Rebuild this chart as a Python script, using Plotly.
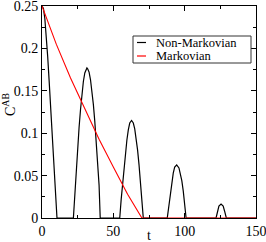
import plotly.graph_objects as go

# Non-Markovian concurrence
t_nm = [0, 1, 2, 3, 4, 5, 6, 7, 8, 9, 10.5,
        22, 23, 24, 25, 26, 27, 28, 29, 30, 31, 31.5, 32, 33, 34, 35, 36, 37, 38, 39, 40, 40.8,
        54.5, 55.5, 56.5, 57.5, 58.5, 59.5, 60.5, 61.5, 62.8, 64, 65, 66, 67, 68, 69, 70, 71,
        87.8, 89, 90, 91, 92, 93, 94.4, 96, 97, 98, 99, 100, 101,
        122, 123, 124, 125.5, 127, 128, 129.2,
        150]
c_nm = [0.25, 0.247, 0.235, 0.215, 0.19, 0.162, 0.132, 0.10, 0.068, 0.036, 0.0,
        0.0, 0.029, 0.057, 0.083, 0.107, 0.128, 0.147, 0.161, 0.171, 0.176, 0.177, 0.176, 0.172, 0.163, 0.150, 0.134, 0.114, 0.091, 0.066, 0.039, 0.0,
        0.0, 0.022, 0.042, 0.060, 0.077, 0.092, 0.104, 0.112, 0.115, 0.112, 0.105, 0.094, 0.080, 0.063, 0.044, 0.022, 0.0,
        0.0, 0.017, 0.031, 0.043, 0.053, 0.060, 0.0625, 0.059, 0.053, 0.044, 0.032, 0.017, 0.0,
        0.0, 0.008, 0.014, 0.0165, 0.014, 0.008, 0.0,
        0.0]

# Markovian concurrence
t_m = [0, 10, 20, 30, 40, 50, 60, 70, 150]
c_m = [0.25, 0.205, 0.165, 0.128, 0.093, 0.060, 0.028, 0.0, 0.0]

legend_labels = ["Non-Markovian", "Markovian"]
colors = ["black", "red"]

x_ticks = [0, 50, 100, 150]
y_ticks = [0, 0.05, 0.1, 0.15, 0.2, 0.25]
y_ticklabels = ["0", "0.05", "0.1", "0.15", "0.2", "0.25"]

FONT = "Liberation Serif, Times New Roman, serif"
FS = 14

fig = go.Figure()
fig.add_trace(go.Scatter(x=t_nm, y=c_nm, mode="lines", name=legend_labels[0],
                         line=dict(color=colors[0], width=1.2), showlegend=False))
fig.add_trace(go.Scatter(x=t_m, y=c_m, mode="lines", name=legend_labels[1],
                         line=dict(color=colors[1], width=1.1), showlegend=False))

W, H = 266, 242
L, R, T, B = 42, 10, 6, 24
pw, ph = W - L - R, H - T - B

def px(x):
    return (x - L) / pw

def py(y):
    return (H - B - y) / ph

# legend box (manual)
shapes = [dict(type="rect", xref="paper", yref="paper",
               x0=px(133), x1=px(251), y0=py(63), y1=py(36),
               line=dict(color="#333333", width=1), fillcolor="white", layer="above")]
annotations = []
for i, (lab, col, yy) in enumerate(zip(legend_labels, colors, [42.5, 56])):
    shapes.append(dict(type="line", xref="paper", yref="paper",
                       x0=px(137), x1=px(146), y0=py(yy), y1=py(yy),
                       line=dict(color=col, width=1.2), layer="above"))
    annotations.append(dict(xref="paper", yref="paper", x=px(155), y=py(yy),
                            text=lab, showarrow=False, xanchor="left", yanchor="middle",
                            borderpad=0,
                            font=dict(family=FONT, size=12.5, color="black")))

annotations.append(dict(xref="paper", yref="paper", x=px(9), y=py(105),
                        text="C<sup>AB</sup>", showarrow=False, textangle=-90,
                        xanchor="center", yanchor="middle",
                        font=dict(family=FONT, size=FS, color="black")))
annotations.append(dict(xref="paper", yref="paper", x=px(149), y=py(235),
                        text="t", showarrow=False,
                        xanchor="center", yanchor="middle",
                        font=dict(family=FONT, size=FS, color="black")))

axis_common = dict(showgrid=False, zeroline=False, showline=True, linecolor="black",
                   linewidth=1, mirror="ticks", ticks="inside", ticklen=5,
                   tickcolor="black", ticklabeloverflow="allow", automargin=False,
                   tickfont=dict(family=FONT, size=FS, color="black"))

fig.update_layout(
    template="none",
    width=W, height=H,
    margin=dict(l=L, r=R, t=T, b=B, pad=0),
    plot_bgcolor="white", paper_bgcolor="white",
    font=dict(family=FONT),
    shapes=shapes, annotations=annotations,
    xaxis=dict(range=[0, 150], tickvals=x_ticks, ticktext=[str(v) for v in x_ticks],
               minor=dict(dtick=25, tick0=0, ticks="inside", ticklen=3, tickcolor="black"),
               **axis_common),
    yaxis=dict(range=[0, 0.25], tickvals=y_ticks, ticktext=y_ticklabels,
               minor=dict(dtick=0.025, tick0=0, ticks="inside", ticklen=3, tickcolor="black"),
               **axis_common),
)

fig.write_html("out.html", config={"displayModeBar": False},
               post_script="document.body.style.margin='0';document.body.style.overflow='hidden';")
